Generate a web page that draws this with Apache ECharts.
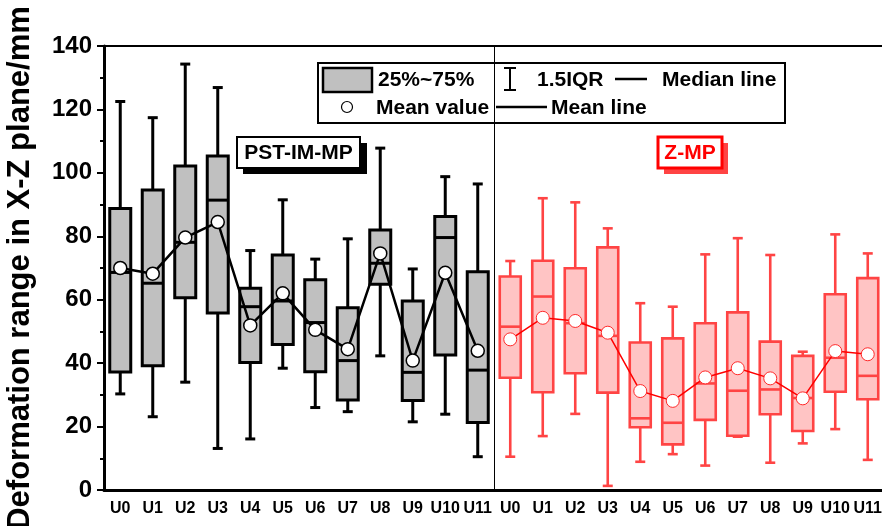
<!DOCTYPE html>
<html>
<head>
<meta charset="utf-8">
<script src="https://cdn.jsdelivr.net/npm/echarts@6/dist/echarts.min.js"></script>
<style>
  html, body { margin: 0; padding: 0; background: #fff; }
  #chart { width: 882px; height: 526px; }
</style>
</head>
<body>
<div id="chart"></div>
<script>
// 两组样本：左边 PST-IM-MP，右边 Z-MP
var units = ['U0', 'U1', 'U2', 'U3', 'U4', 'U5', 'U6', 'U7', 'U8', 'U9', 'U10', 'U11'];
var categories = units.concat(units);

var leftMin    = [30.3, 23.1, 34.0, 13.1, 16.1, 38.4, 26.0, 24.7, 42.3, 21.5, 23.9, 10.5];
var leftQ1     = [37.2, 39.2, 60.6, 55.8, 40.2, 45.9, 37.3, 28.4, 64.9, 28.2, 42.6, 21.3];
var leftMedian = [68.6, 65.2, 78.1, 91.4, 57.8, 59.6, 52.8, 40.8, 71.5, 37.1, 79.6, 37.8];
var leftQ3     = [88.8, 94.6, 102.2, 105.3, 63.6, 74.1, 66.3, 57.5, 82.0, 59.6, 86.2, 68.8];
var leftMax    = [122.5, 117.4, 134.3, 126.9, 75.5, 91.5, 72.8, 79.2, 107.8, 69.7, 98.8, 96.5];
var leftMean   = [70.0, 68.2, 79.6, 84.5, 51.9, 62.0, 50.5, 44.4, 74.6, 40.8, 68.5, 43.9];

var rightMin    = [10.5, 17.0, 24.0, 1.3, 8.9, 11.3, 7.7, 16.8, 8.6, 14.7, 19.2, 9.5];
var rightQ1     = [35.4, 30.8, 36.8, 30.7, 19.8, 14.4, 22.1, 17.1, 23.9, 18.6, 31.0, 28.6];
var rightMedian = [51.5, 61.0, 52.6, 48.6, 22.6, 21.2, 33.6, 31.3, 31.7, 29.0, 41.7, 36.0];
var rightQ3     = [67.3, 72.3, 69.9, 76.5, 46.5, 47.8, 52.6, 56.0, 46.8, 42.3, 61.7, 66.8];
var rightMax    = [72.2, 92.0, 90.7, 82.5, 58.9, 57.8, 74.3, 79.4, 74.1, 43.6, 80.6, 74.6];
var rightMean   = [47.5, 54.3, 53.3, 49.6, 31.2, 28.1, 35.5, 38.4, 35.2, 28.9, 43.8, 42.8];

var yTicks = [0, 20, 40, 60, 80, 100, 120, 140];
// 分隔线画在左组最后一个类目 (U11) 的右边
var dividerAfter = [11];

var FONT = "'Liberation Sans', Arial, sans-serif";
var RED = '#ff4444';

function boxRows(offset, mn, q1, md, q3, mx) {
    return mn.map(function (v, i) {
        return [i + offset, v, q1[i], md[i], q3[i], mx[i]];
    });
}
function meanRows(offset, mean) {
    return mean.map(function (v, i) { return [i + offset, v]; });
}

// 箱体 + 须线，用 custom 画，端帽比箱子窄
function makeBoxRenderer(stroke, fill, lw) {
    return function (params, api) {
        var x = api.value(0);
        var pMin = api.coord([x, api.value(1)]);
        var pQ1 = api.coord([x, api.value(2)]);
        var pMed = api.coord([x, api.value(3)]);
        var pQ3 = api.coord([x, api.value(4)]);
        var pMax = api.coord([x, api.value(5)]);
        var cx = pMin[0];
        var half = 10.5, cap = 5;
        var ls = { stroke: stroke, lineWidth: lw };
        return {
            type: 'group',
            children: [
                { type: 'line', shape: { x1: cx, y1: pQ3[1], x2: cx, y2: pMax[1] }, style: ls },
                { type: 'line', shape: { x1: cx, y1: pQ1[1], x2: cx, y2: pMin[1] }, style: ls },
                { type: 'line', shape: { x1: cx - cap, y1: pMax[1], x2: cx + cap, y2: pMax[1] }, style: ls },
                { type: 'line', shape: { x1: cx - cap, y1: pMin[1], x2: cx + cap, y2: pMin[1] }, style: ls },
                { type: 'rect', shape: { x: cx - half, y: pQ3[1], width: half * 2, height: pQ1[1] - pQ3[1] },
                  style: { fill: fill, stroke: stroke, lineWidth: lw } },
                { type: 'line', shape: { x1: cx - half, y1: pMed[1], x2: cx + half, y2: pMed[1] }, style: ls }
            ]
        };
    };
}

function renderDivider(params, api) {
    var bottom = api.coord([api.value(0), 0]);
    var top = api.coord([api.value(0), 140]);
    var band = api.size([1, 0])[0];
    var x = Math.round(bottom[0] + band / 2) + 0.5;
    return {
        type: 'line',
        shape: { x1: x, y1: top[1], x2: x, y2: bottom[1] },
        style: { stroke: '#000', lineWidth: 1 }
    };
}

var chartDom = document.getElementById('chart');
var myChart = echarts.init(chartDom);

var labelFont = { fontFamily: FONT, fontWeight: 'bold', color: '#000' };

var option = {
    animation: false,
    grid: {
        left: 104,
        top: 46,
        width: 780,
        height: 444,
        outerBoundsMode: 'none',
        containLabel: false
    },
    xAxis: [
        {
            type: 'category',
            data: categories,
            boundaryGap: true,
            axisLine: { lineStyle: { color: '#000', width: 3 } },
            axisTick: { alignWithLabel: true, length: 6, lineStyle: { color: '#000', width: 2 } },
            axisLabel: Object.assign({ interval: 0, margin: 11, fontSize: 16 }, labelFont),
            splitLine: { show: false }
        },
        {
            // 顶部边框
            type: 'category',
            data: categories,
            position: 'top',
            axisLine: { lineStyle: { color: '#000', width: 2 } },
            axisTick: { show: false },
            axisLabel: { show: false }
        }
    ],
    yAxis: {
        type: 'value',
        min: 0,
        max: 140,
        interval: 20,
        name: 'Deformation range in X-Z plane/mm',
        nameLocation: 'middle',
        nameGap: 68,
        nameTextStyle: { fontFamily: FONT, fontWeight: 'bold', fontSize: 31, color: '#000' },
        axisLine: { show: true, lineStyle: { color: '#000', width: 3 } },
        axisTick: { show: true, length: 7, lineStyle: { color: '#000', width: 2 } },
        minorTick: { show: true, splitNumber: 2, length: 4, lineStyle: { color: '#000', width: 2 } },
        axisLabel: Object.assign({
            margin: 12, fontSize: 24,
            formatter: function (v) { return yTicks.indexOf(v) >= 0 ? String(v) : ''; }
        }, labelFont),
        splitLine: { show: false }
    },
    series: [
        {
            name: 'divider',
            type: 'custom',
            renderItem: renderDivider,
            encode: { x: 0, y: 1 },
            data: dividerAfter.map(function (i) { return [i, 0]; }),
            silent: true,
            z: 1
        },
        {
            name: 'PST-IM-MP',
            type: 'custom',
            renderItem: makeBoxRenderer('#000', '#c0c0c0', 3),
            encode: { x: 0, y: [1, 2, 3, 4, 5] },
            data: boxRows(0, leftMin, leftQ1, leftMedian, leftQ3, leftMax),
            z: 3
        },
        {
            name: 'Z-MP',
            type: 'custom',
            renderItem: makeBoxRenderer(RED, '#ffc4c4', 2.6),
            encode: { x: 0, y: [1, 2, 3, 4, 5] },
            data: boxRows(12, rightMin, rightQ1, rightMedian, rightQ3, rightMax),
            z: 3
        },
        {
            name: 'PST mean',
            type: 'line',
            data: meanRows(0, leftMean),
            symbol: 'circle',
            symbolSize: 13,
            lineStyle: { color: '#000', width: 2.5 },
            itemStyle: { color: '#fff', borderColor: '#000', borderWidth: 1.5 },
            z: 4
        },
        {
            name: 'Z mean',
            type: 'line',
            data: meanRows(12, rightMean),
            symbol: 'circle',
            symbolSize: 13,
            lineStyle: { color: '#ff0000', width: 1.5 },
            itemStyle: { color: '#fff', borderColor: '#ff2a2a', borderWidth: 1 },
            z: 4
        }
    ],
    graphic: [
        // 图例框
        {
            type: 'group', z: 100,
            children: [
                { type: 'rect', shape: { x: 318, y: 63, width: 467, height: 60 },
                  style: { fill: '#fff', stroke: '#000', lineWidth: 2 } },
                { type: 'rect', shape: { x: 323, y: 68, width: 49, height: 24 },
                  style: { fill: '#c0c0c0', stroke: '#000', lineWidth: 2.5 } },
                { type: 'text', x: 378, y: 80,
                  style: { text: '25%~75%', fill: '#000', font: 'bold 21px ' + FONT, verticalAlign: 'middle' } },
                { type: 'line', shape: { x1: 510, y1: 68, x2: 510, y2: 90 }, style: { stroke: '#000', lineWidth: 2 } },
                { type: 'line', shape: { x1: 504, y1: 68, x2: 516, y2: 68 }, style: { stroke: '#000', lineWidth: 2 } },
                { type: 'line', shape: { x1: 504, y1: 90, x2: 516, y2: 90 }, style: { stroke: '#000', lineWidth: 2 } },
                { type: 'text', x: 537, y: 80,
                  style: { text: '1.5IQR', fill: '#000', font: 'bold 21px ' + FONT, verticalAlign: 'middle' } },
                { type: 'line', shape: { x1: 615, y1: 79, x2: 647, y2: 79 }, style: { stroke: '#000', lineWidth: 2.5 } },
                { type: 'text', x: 662, y: 80,
                  style: { text: 'Median line', fill: '#000', font: 'bold 21px ' + FONT, verticalAlign: 'middle' } },
                { type: 'circle', shape: { cx: 347, cy: 107, r: 5.5 },
                  style: { fill: '#fff', stroke: '#000', lineWidth: 1.2 } },
                { type: 'text', x: 376, y: 108,
                  style: { text: 'Mean value', fill: '#000', font: 'bold 21px ' + FONT, verticalAlign: 'middle' } },
                { type: 'line', shape: { x1: 496, y1: 107, x2: 547, y2: 107 }, style: { stroke: '#000', lineWidth: 2.5 } },
                { type: 'text', x: 551, y: 108,
                  style: { text: 'Mean line', fill: '#000', font: 'bold 21px ' + FONT, verticalAlign: 'middle' } }
            ]
        },
        // 组名标签
        {
            type: 'group', z: 100,
            children: [
                { type: 'rect', shape: { x: 243, y: 143, width: 124, height: 31 }, style: { fill: '#000' } },
                { type: 'rect', shape: { x: 237, y: 137, width: 123, height: 31 },
                  style: { fill: '#fff', stroke: '#000', lineWidth: 2 } },
                { type: 'text', x: 298.5, y: 153,
                  style: { text: 'PST-IM-MP', fill: '#000', font: 'bold 21px ' + FONT,
                           align: 'center', verticalAlign: 'middle' } }
            ]
        },
        {
            type: 'group', z: 100,
            children: [
                { type: 'rect', shape: { x: 664, y: 143, width: 64, height: 31 }, style: { fill: RED } },
                { type: 'rect', shape: { x: 658, y: 137, width: 64, height: 31 },
                  style: { fill: '#fff', stroke: '#ff0000', lineWidth: 3 } },
                { type: 'text', x: 690, y: 153,
                  style: { text: 'Z-MP', fill: '#ff0000', font: 'bold 21px ' + FONT,
                           align: 'center', verticalAlign: 'middle' } }
            ]
        }
    ]
};

myChart.setOption(option);
</script>
</body>
</html>
